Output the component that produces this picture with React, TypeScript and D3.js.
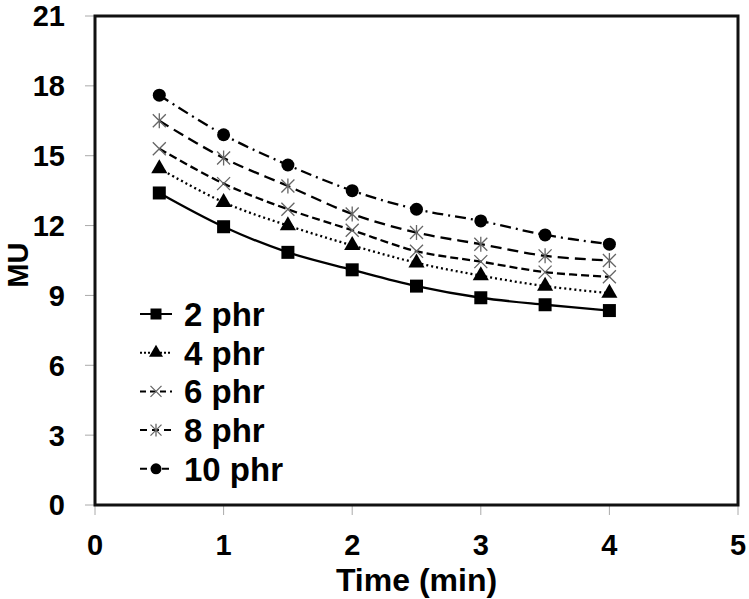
import { curveCatmullRom, line, scaleLinear, symbol, symbolCircle, symbolSquare, symbolTriangle } from 'd3'

const times = [0.5, 1, 1.5, 2, 2.5, 3, 3.5, 4]
const seriesNames = ['2 phr', '4 phr', '6 phr', '8 phr', '10 phr']
const phr2 = [13.4, 11.95, 10.85, 10.1, 9.4, 8.9, 8.6, 8.35]
const phr4 = [14.45, 13.0, 12.0, 11.15, 10.4, 9.85, 9.4, 9.1]
const phr6 = [15.3, 13.8, 12.7, 11.8, 10.9, 10.45, 10.0, 9.8]
const phr8 = [16.5, 14.9, 13.7, 12.5, 11.7, 11.2, 10.7, 10.5]
const phr10 = [17.6, 15.9, 14.6, 13.5, 12.7, 12.2, 11.6, 11.2]
const xTicks = [0, 1, 2, 3, 4, 5]
const yTicks = [0, 3, 6, 9, 12, 15, 18, 21]

const width = 749
const height = 599
const plot = { left: 95, right: 738, top: 16, bottom: 505 }

const x = scaleLinear().domain([0, 5]).range([plot.left, plot.right])
const y = scaleLinear().domain([0, 21]).range([plot.bottom, plot.top])

type Marker = 'square' | 'triangle' | 'x' | 'star' | 'circle'

const styles: { marker: Marker; dash: string; legendDash: string }[] = [
  { marker: 'square', dash: '', legendDash: '' },
  { marker: 'triangle', dash: '2 3', legendDash: '2 2' },
  { marker: 'x', dash: '8 4', legendDash: '6 4' },
  { marker: 'star', dash: '11 6', legendDash: '7 5' },
  { marker: 'circle', dash: '11 5 2 5', legendDash: '7 4' },
]

const allSeries = [phr2, phr4, phr6, phr8, phr10]

const MarkerShape = ({ kind, cx, cy, s }: { kind: Marker; cx: number; cy: number; s: number }) => {
  const t = `translate(${cx},${cy})`
  if (kind === 'square') return <path transform={t} d={symbol(symbolSquare, s * s)() ?? ''} fill="#000" />
  if (kind === 'circle') return <path transform={t} d={symbol(symbolCircle, (Math.PI * s * s) / 4)() ?? ''} fill="#000" />
  if (kind === 'triangle') return <path transform={t} d={symbol(symbolTriangle, s * s * 0.5)() ?? ''} fill="#000" />
  const h = s / 2
  const d = `M${-h},${-h}L${h},${h}M${-h},${h}L${h},${-h}` + (kind === 'star' ? `M0,${-h * 1.15}L0,${h * 1.15}` : '')
  return <path transform={t} d={d} stroke="#666" strokeWidth={1.3} fill="none" />
}

const lineGen = line<number>()
  .x((_, i) => x(times[i]))
  .y((d) => y(d))
  .curve(curveCatmullRom.alpha(0.5))

const bold = { fontFamily: 'Liberation Sans, Arial, sans-serif', fontWeight: 700 }

const App = () => {
  return (
    <div style={{ position: 'absolute', left: 0, top: 0 }}>
      <svg width={width} height={height} viewBox={`0 0 ${width} ${height}`} style={{ display: 'block', background: '#fff' }}>
        {yTicks.map((v) => (
          <g key={v}>
            <line x1={plot.left - 10} x2={plot.left} y1={y(v)} y2={y(v)} stroke="#aaa" strokeWidth={1} />
            <text x={65} y={y(v)} dy="0.36em" textAnchor="end" fontSize={29} style={bold}>
              {v}
            </text>
          </g>
        ))}
        {xTicks.map((v) => (
          <g key={v}>
            <line x1={x(v)} x2={x(v)} y1={plot.bottom} y2={plot.bottom + 10} stroke="#aaa" strokeWidth={1} />
            <text x={x(v)} y={555} textAnchor="middle" fontSize={29} style={bold}>
              {v}
            </text>
          </g>
        ))}

        <rect x={plot.left} y={plot.top} width={plot.right - plot.left} height={plot.bottom - plot.top} fill="none" stroke="#111" strokeWidth={3} />

        {allSeries.map((vals, i) => (
          <path key={seriesNames[i]} d={lineGen(vals) ?? ''} fill="none" stroke="#000" strokeWidth={2.3} strokeDasharray={styles[i].dash} />
        ))}
        {allSeries.map((vals, i) =>
          vals.map((v, j) => (
            <MarkerShape key={`${i}-${j}`} kind={styles[i].marker} cx={x(times[j])} cy={y(v)} s={styles[i].marker === 'triangle' ? 15 : 13} />
          )),
        )}

        {seriesNames.map((name, i) => {
          const ly = 314 + i * 38.7
          return (
            <g key={name}>
              <line x1={140} x2={172} y1={ly} y2={ly} stroke="#000" strokeWidth={2} strokeDasharray={styles[i].legendDash} />
              <MarkerShape kind={styles[i].marker} cx={156} cy={ly} s={styles[i].marker === 'triangle' ? 13 : 11} />
              <text x={184} y={ly} dy="0.36em" fontSize={33} style={bold}>
                {name}
              </text>
            </g>
          )
        })}

        <text x={x(2.5)} y={591} textAnchor="middle" fontSize={32} style={bold}>
          Time (min)
        </text>
        <text transform={`translate(28, ${y(10.3)}) rotate(-90)`} textAnchor="middle" fontSize={29} style={bold}>
          MU
        </text>
      </svg>
    </div>
  )
}

export default App
